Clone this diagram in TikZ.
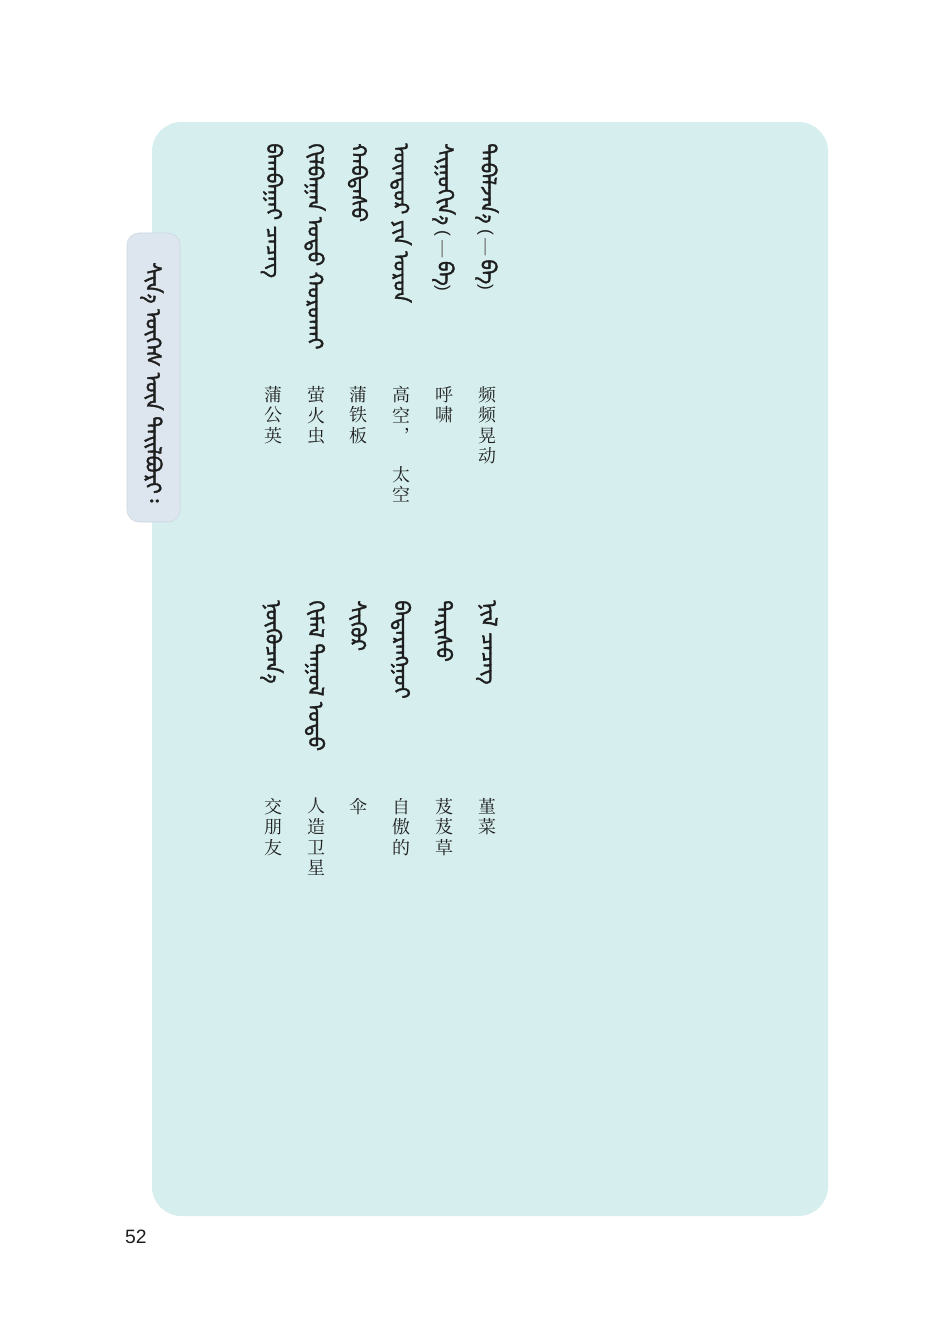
\documentclass[tikz,border=0pt]{standalone}
\usepackage{fontspec}
\setmainfont{Liberation Sans}
\IfFontExistsTF{Noto Serif CJK SC}
  {\newfontfamily\cjk{Noto Serif CJK SC}}
  {\newfontfamily\cjk{Noto Sans CJK SC}}
\IfFontExistsTF{Noto Sans Mongolian}
  {\newfontfamily\mong[Script=Mongolian, FakeBold=1.6]{Noto Sans Mongolian}}
  {\newfontfamily\mong{DejaVu Sans}}
\usetikzlibrary{positioning}

\definecolor{boxfill}{RGB}{214,238,238}
\definecolor{tabfill}{RGB}{221,230,238}
\definecolor{tabline}{RGB}{204,215,225}
\definecolor{ink}{RGB}{30,30,30}
\definecolor{dashgray}{RGB}{110,110,110}

\newcommand{\paren}[1]{{\rmfamily\fontsize{13}{15}\selectfont #1}}
\newcommand{\mdash}{\,{\color{dashgray}\rmfamily\fontsize{13}{15}\selectfont —}\,}

\tikzset{
  mn/.style={anchor=west, rotate=-90, inner sep=0, text=ink,
    font=\mong\fontsize{16}{18}\selectfont},
  cn/.style={anchor=north, align=center, inner sep=0, text=ink,
    font=\cjk\fontsize{13.5}{15.4}\selectfont},
}

\begin{document}
\begin{tikzpicture}[x=0.75pt, y=-0.75pt]
    \useasboundingbox (0,0) rectangle (940,1337);
    \fill[boxfill, rounded corners=22] (152,122) rectangle (828,1216);
    \filldraw[fill=tabfill, draw=tabline, rounded corners=9] (127,233) rectangle (180,522);
    \node[mn] (tab) at (152,262) {ᠰᠢᠨ᠎ᠡ ᠦᠭᠡᠰ ᠦᠨ ᠲᠠᠢᠯᠪᠤᠷᠢ᠄};

    % first block
    \node[mn] (w_1) at (487,143) {ᠳᠠᠪᠠᠯᠵᠠᠨ᠎ᠠ \paren{(}\mdash ᠪᠠ\paren{)}};
    \node[mn] (w_2) at (444,143) {ᠰᠢᠭᠤᠭᠢᠨ᠎ᠠ \paren{(}\mdash ᠪᠠ\paren{)}};
    \node[mn] (w_3) at (401,143) {ᠥᠨᠳᠥᠷ ᠶᠢᠨ ᠣᠷᠣᠨ};
    \node[mn] (w_4) at (358,143) {ᠬᠠᠪᠲᠠᠰᠤ};
    \node[mn] (w_5) at (315,143) {ᠭᠢᠯᠪᠠᠭᠠᠨ ᠣᠳᠣ ᠬᠣᠷᠣᠬᠠᠢ};
    \node[mn] (w_6) at (272,143) {ᠪᠠᠭᠪᠠᠭᠠᠢ ᠴᠡᠴᠡᠭ};

    \node[cn] (g_1) at (487,386) {频\\频\\晃\\动};
    \node[cn] (g_2) at (444,386) {呼\\啸};
    \node[cn] (g_3) at (401,386) {高\\空\\︐};
    \node[cn] (g_3b) at (401,466) {太\\空};
    \node[cn] (g_4) at (358,386) {蒲\\铁\\板};
    \node[cn] (g_5) at (316,386) {萤\\火\\虫};
    \node[cn] (g_6) at (273,386) {蒲\\公\\英};

    % second block
    \node[mn] (w_7) at (487,600) {ᠨᠢᠯ ᠴᠡᠴᠡᠭ};
    \node[mn] (w_8) at (444,600) {ᠳᠡᠷᠢᠰᠦ};
    \node[mn] (w_9) at (401,600) {ᠪᠠᠳᠠᠷᠠᠩᠭᠤᠢ};
    \node[mn] (w_10) at (358,600) {ᠰᠢᠬᠦᠷ};
    \node[mn] (w_11) at (315,600) {ᠬᠢᠮᠡᠯ ᠳᠠᠭᠤᠯ ᠣᠳᠣ};
    \node[mn] (w_12) at (272,600) {ᠨᠥᠬᠥᠴᠡᠨ᠎ᠡ};

    \node[cn] (g_7) at (487,798) {堇\\菜};
    \node[cn] (g_8) at (444,798) {芨\\芨\\草};
    \node[cn] (g_9) at (401,798) {自\\傲\\的};
    \node[cn] (g_10) at (358,798) {伞};
    \node[cn] (g_11) at (316,798) {人\\造\\卫\\星};
    \node[cn] (g_12) at (273,798) {交\\朋\\友};

    \node[font=\fontsize{14.5}{17}\selectfont, text=ink] (page) at (136,1237) {52};
\end{tikzpicture}
\end{document}
